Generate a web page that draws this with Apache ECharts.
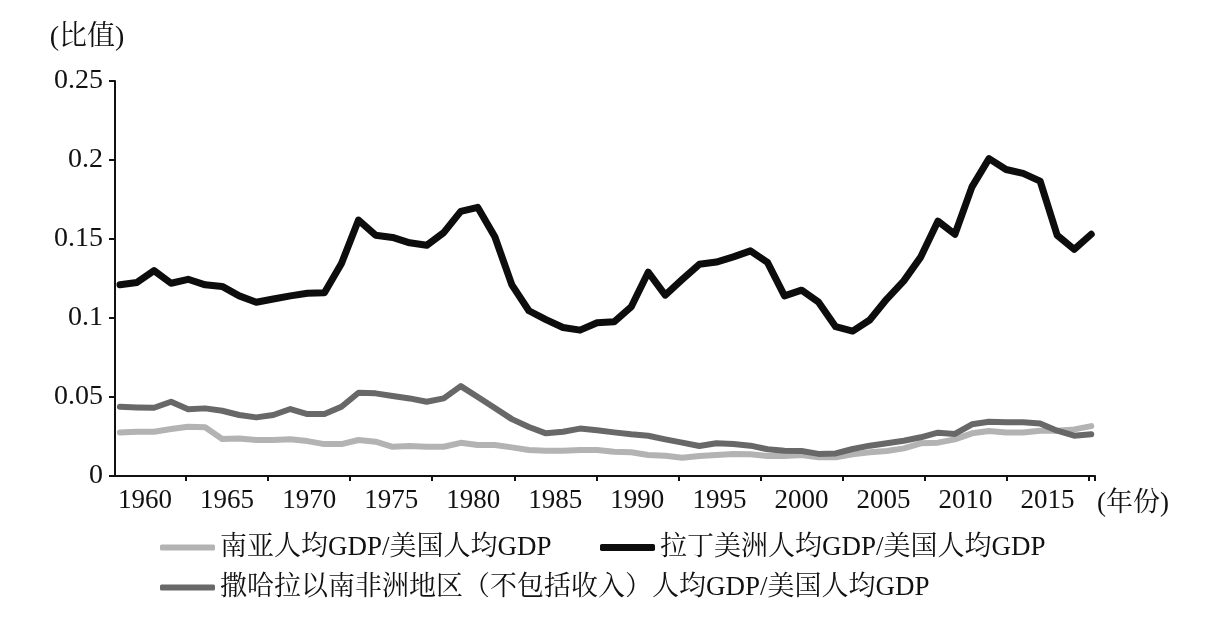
<!DOCTYPE html>
<html>
<head>
<meta charset="utf-8">
<script src="https://cdn.jsdelivr.net/npm/echarts@6/dist/echarts.min.js"></script>
<style>
  html, body { margin: 0; padding: 0; background: #fff; }
  #main { width: 1206px; height: 632px; }
</style>
</head>
<body>
<div id="main"></div>
<script>
// 年份 1960-2017
const years = []
for (let y = 1960; y <= 2017; y++) years.push(y)

// 南亚人均GDP/美国人均GDP
const southAsia = [
  0.0276, 0.0280, 0.0280, 0.0297, 0.0312, 0.0308, 0.0234, 0.0238, 0.0228, 0.0228,
  0.0232, 0.0221, 0.0202, 0.0202, 0.0228, 0.0217, 0.0185, 0.0190, 0.0185, 0.0185,
  0.0210, 0.0196, 0.0196, 0.0181, 0.0164, 0.0160, 0.0160, 0.0164, 0.0164, 0.0154,
  0.0150, 0.0133, 0.0128, 0.0116, 0.0127, 0.0133, 0.0139, 0.0137, 0.0127, 0.0127,
  0.0133, 0.0118, 0.0118, 0.0137, 0.0150, 0.0158, 0.0175, 0.0207, 0.0211, 0.0232,
  0.0270, 0.0285, 0.0276, 0.0276, 0.0287, 0.0287, 0.0295, 0.0316
]
// 拉丁美洲人均GDP/美国人均GDP
const latinAmerica = [
  0.1210, 0.1225, 0.1300, 0.1220, 0.1245, 0.1210, 0.1200, 0.1140, 0.1100, 0.1120,
  0.1140, 0.1157, 0.1160, 0.1345, 0.1620, 0.1524, 0.1510, 0.1476, 0.1460, 0.1540,
  0.1675, 0.1700, 0.1514, 0.1210, 0.1046, 0.0990, 0.0940, 0.0923, 0.0970, 0.0976,
  0.1070, 0.1290, 0.1145, 0.1244, 0.1340, 0.1354, 0.1387, 0.1425, 0.1352, 0.1140,
  0.1176, 0.1100, 0.0945, 0.0917, 0.0987, 0.1120, 0.1235, 0.1387, 0.1613, 0.1530,
  0.1830, 0.2009, 0.1940, 0.1915, 0.1866, 0.1524, 0.1434, 0.1530
]
// 撒哈拉以南非洲地区人均GDP/美国人均GDP
const subSaharan = [
  0.0438, 0.0434, 0.0432, 0.0470, 0.0422, 0.0428, 0.0413, 0.0386, 0.0371, 0.0386,
  0.0424, 0.0392, 0.0392, 0.0438, 0.0527, 0.0523, 0.0506, 0.0491, 0.0470, 0.0491,
  0.0569, 0.0500, 0.0430, 0.0360, 0.0310, 0.0270, 0.0280, 0.0300, 0.0290, 0.0276,
  0.0264, 0.0255, 0.0232, 0.0211, 0.0190, 0.0207, 0.0202, 0.0192, 0.0169, 0.0160,
  0.0158, 0.0140, 0.0143, 0.0171, 0.0192, 0.0207, 0.0223, 0.0245, 0.0274, 0.0266,
  0.0327, 0.0343, 0.0340, 0.0340, 0.0333, 0.0287, 0.0255, 0.0264
]

// 横轴标签
const yearLabels = [1960, 1965, 1970, 1975, 1980, 1985, 1990, 1995, 2000, 2005, 2010, 2015]

const seriesNames = [
  '南亚人均GDP/美国人均GDP',
  '拉丁美洲人均GDP/美国人均GDP',
  '撒哈拉以南非洲地区（不包括收入）人均GDP/美国人均GDP'
]

const serif = "'Liberation Serif', 'Noto Serif CJK SC', 'Noto Sans CJK SC', serif"

function pairs(vals) {
  return years.map((y, i) => [y, vals[i]])
}

const legendText = { fontFamily: serif, fontSize: 27, color: '#111' }

const option = {
  animation: false,
  backgroundColor: '#fff',
  grid: { left: 115, right: 111, top: 81, bottom: 156 },
  legend: [
    {
      data: [seriesNames[0]],
      left: 155, top: 529,
      icon: 'roundRect', itemWidth: 55, itemHeight: 6,
      textStyle: legendText
    },
    {
      data: [seriesNames[1]],
      left: 595, top: 529,
      icon: 'roundRect', itemWidth: 55, itemHeight: 7,
      textStyle: legendText
    },
    {
      data: [seriesNames[2]],
      left: 155, top: 569,
      icon: 'roundRect', itemWidth: 55, itemHeight: 6,
      textStyle: legendText
    }
  ],
  xAxis: [
    {
      // 数据轴
      type: 'value',
      position: 'bottom',
      min: 1959.71,
      max: 2017.22,
      show: false,
      splitLine: { show: false }
    },
    {
      // 标签轴
      type: 'value',
      position: 'bottom',
      min: 1958.17,
      max: 2017.89,
      name: '(年份)',
      nameLocation: 'end',
      nameGap: 2,
      nameTextStyle: {
        fontFamily: serif, fontSize: 27, color: '#111',
        verticalAlign: 'top', padding: [14, 0, 0, 0]
      },
      axisLine: { show: true, lineStyle: { color: '#111', width: 2 } },
      axisTick: {
        show: true, length: 5, lineStyle: { color: '#111', width: 2 },
        customValues: yearLabels.map(v => v + 2.5).concat([2017.89])
      },
      axisLabel: {
        customValues: yearLabels,
        formatter: v => String(Math.round(v)),
        fontFamily: serif, fontSize: 27, color: '#111', margin: 11
      },
      splitLine: { show: false }
    }
  ],
  yAxis: {
    type: 'value',
    min: 0,
    max: 0.25,
    interval: 0.05,
    name: '(比值)',
    nameLocation: 'end',
    nameGap: 29,
    nameTextStyle: {
      fontFamily: serif, fontSize: 28, color: '#111',
      padding: [0, 56, 0, 0]
    },
    axisLine: { show: true, lineStyle: { color: '#111', width: 2 } },
    axisTick: { show: true, length: 6, lineStyle: { color: '#111', width: 2 } },
    axisLabel: {
      fontFamily: serif, fontSize: 28, color: '#111', margin: 12
    },
    splitLine: { show: false }
  },
  series: [
    {
      name: seriesNames[0],
      type: 'line',
      xAxisIndex: 0,
      showSymbol: false,
      color: '#b3b3b3',
      lineStyle: { color: '#b3b3b3', width: 6, join: 'round', cap: 'round' },
      data: pairs(southAsia)
    },
    {
      name: seriesNames[1],
      type: 'line',
      xAxisIndex: 0,
      showSymbol: false,
      color: '#0d0d0d',
      lineStyle: { color: '#0d0d0d', width: 7, join: 'round', cap: 'round' },
      data: pairs(latinAmerica)
    },
    {
      name: seriesNames[2],
      type: 'line',
      xAxisIndex: 0,
      showSymbol: false,
      color: '#686868',
      lineStyle: { color: '#686868', width: 6, join: 'round', cap: 'round' },
      data: pairs(subSaharan)
    }
  ]
}

const chartDom = document.getElementById('main')
const myChart = echarts.init(chartDom)
myChart.setOption(option)
</script>
</body>
</html>
